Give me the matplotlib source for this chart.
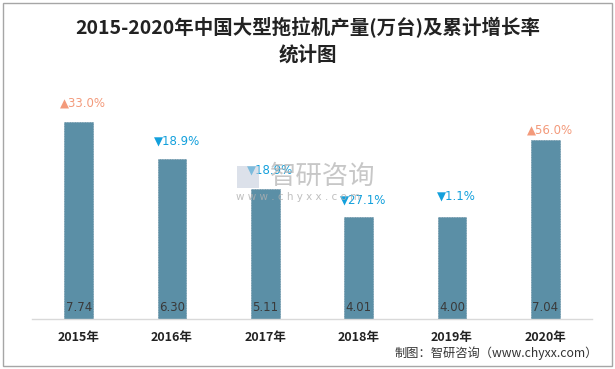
import numpy as np
import matplotlib
matplotlib.use("Agg")
import matplotlib.pyplot as plt
from matplotlib.patches import Rectangle

plt.rcParams["font.family"] = ["Noto Sans CJK SC", "DejaVu Sans"]

years = ["2015年", "2016年", "2017年", "2018年", "2019年", "2020年"]
output = [7.74, 6.30, 5.11, 4.01, 4.00, 7.04]
growth = ["33.0%", "18.9%", "18.9%", "27.1%", "1.1%", "56.0%"]
growth_up = [True, False, False, False, False, True]
# vertical offset of growth labels above bar tops (points)
label_pad = [14, 13, 14, 12, 15, 7]

BAR = "#5B8FA6"
UP = "#F39A7B"
DOWN = "#13A0DC"

fig = plt.figure(figsize=(6.15, 3.69), dpi=100)
ax = fig.add_axes([32 / 615, 1 - 319 / 369, 560 / 615, 230 / 369])

x = np.arange(len(years))
ax.bar(x, output, width=0.31, color=BAR, edgecolor="#4D7E95", linewidth=0.4,
       linestyle=(0, (2, 1)), zorder=2)

for xi, v in zip(x, output):
    ax.text(xi, 0.45, f"{v:.2f}", ha="center", va="center", fontsize=8.5,
            color="#3A3A3A", family=["DejaVu Sans"], zorder=3)

for xi, v, g, up, pad in zip(x, output, growth, growth_up, label_pad):
    col = UP if up else DOWN
    mark = "▲" if up else "▼"
    ax.annotate(mark + g, (xi + 0.05, v), xytext=(0, pad), textcoords="offset points",
                ha="center", va="center", fontsize=8.5, color=col,
                family=["DejaVu Sans"], zorder=4)

ax.set_xlim(-0.5, len(years) - 0.5)
ax.set_ylim(0, 9.04)
ax.set_xticks(x)
ax.set_xticklabels(years, fontsize=9, fontweight="bold", color="#222222")
ax.tick_params(axis="x", length=0, pad=9)
ax.set_yticks([])
for s in ["top", "right", "left"]:
    ax.spines[s].set_visible(False)
ax.spines["bottom"].set_color("#D9D9D9")
ax.spines["bottom"].set_linewidth(1)

# watermark
fig.text(270 / 615, 1 - 176 / 369, "智研咨询", fontsize=19, color="#B0B0B0",
         alpha=0.7, va="center", ha="left")
fig.text(236 / 615, 1 - 197 / 369, "w w w . c h y x x . c o m", fontsize=7.5,
         color="#B0B0B0", alpha=0.8, va="center", ha="left", family=["DejaVu Sans"])
fig.patches.append(Rectangle((237 / 615, 1 - 188 / 369), 22 / 615, 22 / 369,
                             transform=fig.transFigure, facecolor="#C5CEDD",
                             alpha=0.6, edgecolor="none", zorder=1))

fig.text(0.5, 1 - 28 / 369, "2015-2020年中国大型拖拉机产量(万台)及累计增长率",
         ha="center", va="center", fontsize=14, fontweight="bold", color="#222222")
fig.text(0.5, 1 - 55 / 369, "统计图", ha="center", va="center", fontsize=14,
         fontweight="bold", color="#222222")

fig.text(598 / 615, 1 - 353 / 369, "制图：智研咨询（www.chyxx.com）", ha="right",
         va="center", fontsize=8.8, color="#333333")

fig.patches.append(Rectangle((3 / 615, 3 / 369), 609 / 615, 363 / 369,
                             transform=fig.transFigure, facecolor="none",
                             edgecolor="#A6A6A6", linewidth=1))

fig.savefig("out.png", dpi=100)
